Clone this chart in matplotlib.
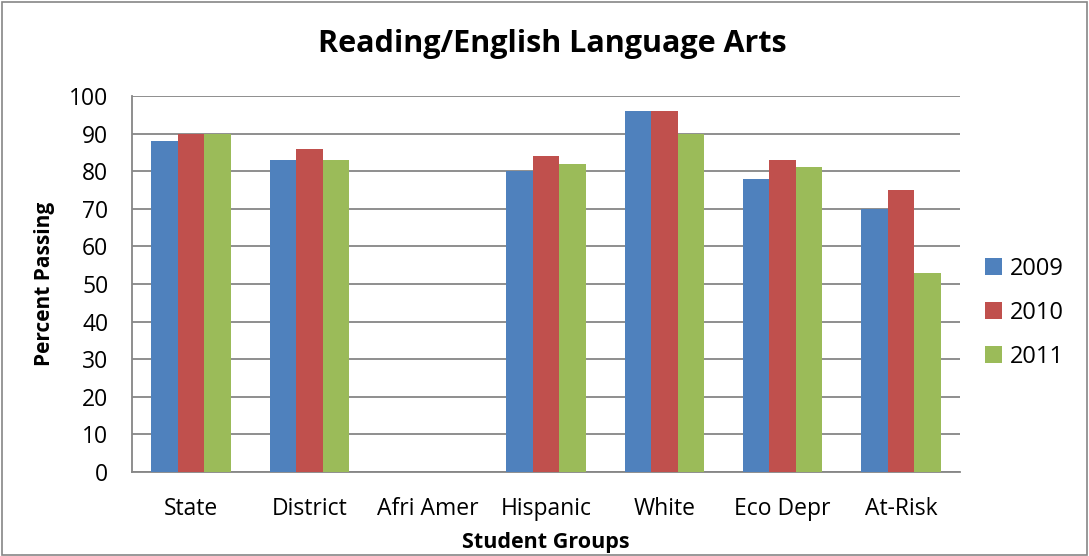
import numpy as np
import matplotlib
matplotlib.use('Agg')
import matplotlib.pyplot as plt
from matplotlib.patches import Rectangle

plt.rcParams['font.family'] = ['Open Sans', 'DejaVu Sans']

groups = ['State', 'District', 'Afri Amer', 'Hispanic', 'White', 'Eco Depr', 'At-Risk']
years = ['2009', '2010', '2011']
pass_2009 = [88, 83, np.nan, 80, 96, 78, 70]
pass_2010 = [90, 86, np.nan, 84, 96, 83, 75]
pass_2011 = [90, 83, np.nan, 82, 90, 81, 53]
colors = ['#4F81BD', '#C0504D', '#9BBB59']

fig = plt.figure(figsize=(10.89, 5.56), dpi=100)
ax = fig.add_axes([132/1089, 1 - 472/556, (960-132)/1089, (472-96)/556])

x = np.arange(len(groups))
w = 0.224
for k, (vals, c, lab) in enumerate(zip([pass_2009, pass_2010, pass_2011], colors, years)):
    ax.bar(x + (k - 1)*w, vals, width=w, color=c, label=lab, zorder=3)

ax.set_xlim(-0.5, len(groups) - 0.5)
ax.set_ylim(0, 100)
ax.set_yticks(np.arange(0, 101, 10))
ax.set_xticks(x)
ax.set_xticklabels(groups, fontsize=16.5)
ax.tick_params(axis='y', labelsize=16.5, length=0, pad=17)
ax.tick_params(axis='x', length=0, pad=18)
ax.yaxis.grid(True, color='#868686', linewidth=1.3, zorder=0)
for s in ['top', 'right']:
    ax.spines[s].set_visible(False)
for s in ['left', 'bottom']:
    ax.spines[s].set_color('#868686')
    ax.spines[s].set_linewidth(1.3)

ax.set_ylabel('Percent Passing', fontsize=15, fontweight='bold', labelpad=10)
ax.set_xlabel('Student Groups', fontsize=15.5, fontweight='bold', labelpad=8)
fig.text(552/1089, 1 - 44/556, 'Reading/English Language Arts', ha='center', va='center',
         fontsize=22, fontweight='bold')

ax.legend(loc='center left', bbox_to_anchor=(1.005, 0.423), frameon=False, fontsize=17,
          handlelength=0.7, handleheight=0.7, labelspacing=0.85, handletextpad=0.35)

fig.patches.append(Rectangle((0.002, 0.002), 0.996, 0.994, transform=fig.transFigure,
                             fill=False, edgecolor='#868686', linewidth=1.2))

fig.savefig('out.png', dpi=100)
